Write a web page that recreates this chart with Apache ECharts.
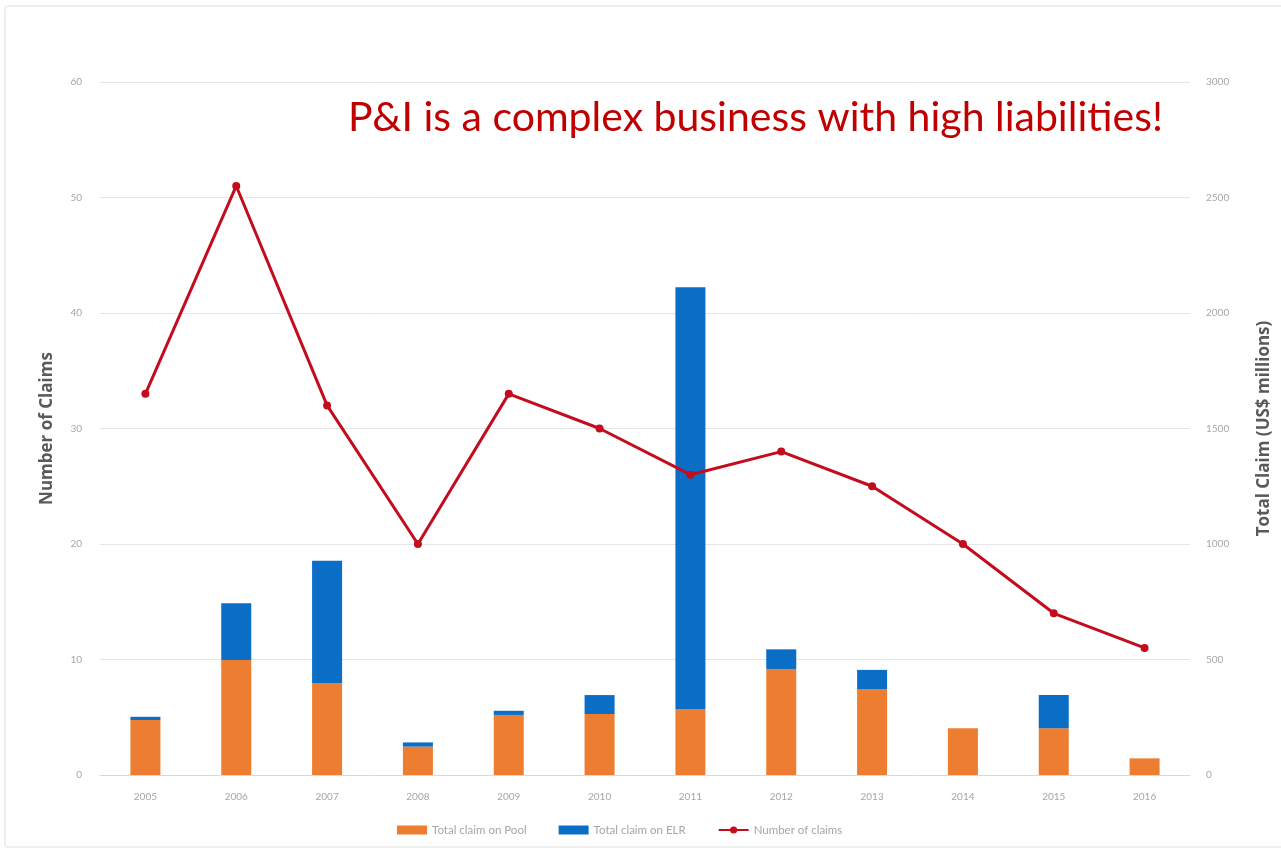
<!DOCTYPE html>
<html>
<head>
<meta charset="utf-8">
<script src="https://cdn.jsdelivr.net/npm/echarts@6/dist/echarts.min.js"></script>
<style>
  html, body { margin: 0; padding: 0; background: #fff; }
  #frame {
    position: absolute; left: 4px; top: 5px; width: 1290px; height: 843px;
    border: 2px solid #eeeeee; border-radius: 4px; box-sizing: border-box;
  }
  #chart { position: absolute; left: 0; top: 0; width: 1281px; height: 855px; }
</style>
</head>
<body>
<div id="frame"></div>
<div id="chart"></div>
<script>
const years = ["2005", "2006", "2007", "2008", "2009", "2010", "2011", "2012", "2013", "2014", "2015", "2016"];
const poolClaims = [238, 498, 397, 123, 260, 264, 286, 459, 371, 202, 202, 72];
const elrClaims = [14, 246, 531, 18, 18, 82, 1825, 85, 84, 0, 144, 0];
const numberOfClaims = [33, 51, 32, 20, 33, 30, 26, 28, 25, 20, 14, 11];

const myChart = echarts.init(document.getElementById("chart"));

const labelStyle = { color: "#a6a6a6", fontSize: 10, fontFamily: "Lato" };
const nameStyle = { color: "#595959", fontSize: 17, fontWeight: "bold", fontFamily: "Open Sans" };

const option = {
  animation: false,
  textStyle: { fontFamily: "Lato" },
  title: {
    text: "P&I is a complex business with high liabilities!",
    left: 343,
    top: 92,
    textStyle: { color: "#c00000", fontSize: 41, fontWeight: "normal", fontFamily: "Lato" },
  },
  legend: {
    bottom: 14,
    left: 392,
    itemGap: 32,
    itemWidth: 30,
    itemHeight: 9,
    textStyle: { color: "#a6a6a6", fontSize: 11.5 },
    data: [
      { name: "Total claim on Pool", icon: "rect" },
      { name: "Total claim on ELR", icon: "rect" },
      { name: "Number of claims" },
    ],
  },
  grid: { left: 100, right: 85, top: 82, bottom: 80 },
  xAxis: {
    type: "category",
    data: years,
    axisTick: { show: false },
    axisLine: { lineStyle: { color: "#d9d9d9" } },
    axisLabel: { ...labelStyle, margin: 17 },
  },
  yAxis: [
    {
      type: "value",
      min: 0,
      max: 60,
      interval: 10,
      name: "Number of Claims",
      nameLocation: "middle",
      nameGap: 44,
      nameTextStyle: nameStyle,
      axisLabel: { ...labelStyle, margin: 18 },
      splitLine: { lineStyle: { color: "#e6e6e6" } },
    },
    {
      type: "value",
      min: 0,
      max: 3000,
      interval: 500,
      name: "Total Claim (US$ millions)",
      nameLocation: "middle",
      nameGap: 66,
      nameTextStyle: nameStyle,
      axisLabel: { ...labelStyle, margin: 16, formatter: (v) => String(v) },
      splitLine: { show: false },
    },
  ],
  series: [
    {
      name: "Total claim on Pool",
      type: "bar",
      yAxisIndex: 1,
      stack: "total",
      barWidth: 30,
      itemStyle: { color: "#ed7d31" },
      data: poolClaims,
    },
    {
      name: "Total claim on ELR",
      type: "bar",
      yAxisIndex: 1,
      stack: "total",
      barWidth: 30,
      itemStyle: { color: "#0a6ec6" },
      data: elrClaims,
    },
    {
      name: "Number of claims",
      type: "line",
      yAxisIndex: 0,
      symbol: "circle",
      symbolSize: 8,
      lineStyle: { width: 3, color: "#c30c1e" },
      itemStyle: { color: "#c30c1e" },
      data: numberOfClaims,
      z: 5,
    },
  ],
};

myChart.setOption(option);
window.addEventListener("resize", () => myChart.resize());
</script>
</body>
</html>
